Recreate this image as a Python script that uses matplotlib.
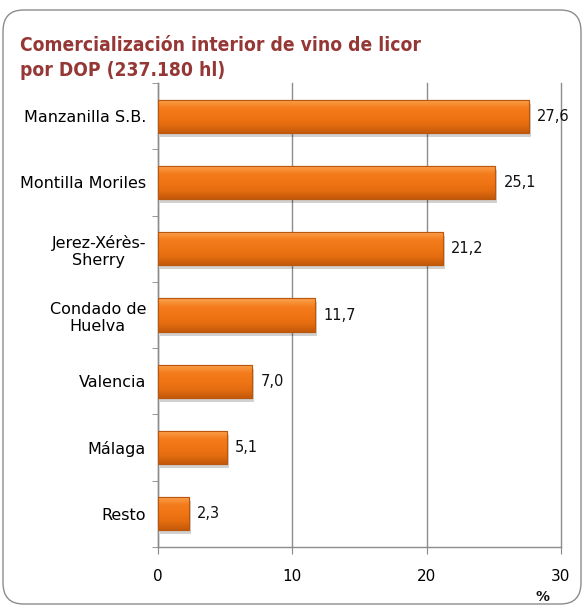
import matplotlib
matplotlib.use("Agg")
import matplotlib.pyplot as plt
from matplotlib.patches import FancyBboxPatch
from matplotlib.colors import LinearSegmentedColormap
import numpy as np

categories = ["Manzanilla S.B.", "Montilla Moriles", "Jerez-Xérès-\nSherry",
              "Condado de\nHuelva", "Valencia", "Málaga", "Resto"]
values = [27.6, 25.1, 21.2, 11.7, 7.0, 5.1, 2.3]
value_labels = ["27,6", "25,1", "21,2", "11,7", "7,0", "5,1", "2,3"]
xticks = [0, 10, 20, 30]
title = "Comercialización interior de vino de licor\npor DOP (237.180 hl)"

W, H = 584, 608
fig = plt.figure(figsize=(W / 100, H / 100), dpi=100)
plt.rcParams['font.family'] = ['DejaVu Sans']

# rounded frame
frame = FancyBboxPatch((3 / W, 4 / H), (W - 6) / W, (H - 14) / H,
                       boxstyle="round,pad=0,rounding_size=0.035",
                       transform=fig.transFigure, fill=False,
                       edgecolor="#8c8c8c", linewidth=1.0)
fig.patches.append(frame)

ax = fig.add_axes([158 / W, 1 - 547 / H, (561 - 158) / W, (547 - 83) / H])
n = len(categories)
y = np.arange(n)
bars = ax.barh(y, values, height=0.5, color="#F07514", edgecolor="#B9570E",
               linewidth=0.8, zorder=3)

# gradient fill for bars
cmap = LinearSegmentedColormap.from_list(
    "bar", ["#FBA34F", "#F47C1C", "#F07514", "#E56D10", "#C55A0A"])
for b in bars:
    ax.add_patch(plt.Rectangle((b.get_x() + 0.15, b.get_y() + 0.06), b.get_width(),
                               b.get_height(), facecolor="#000000", alpha=0.18,
                               edgecolor="none", zorder=2))
    im = ax.imshow(np.linspace(0, 1, 50).reshape(-1, 1), cmap=cmap, aspect="auto",
                   extent=[b.get_x(), b.get_x() + b.get_width(),
                           b.get_y() + b.get_height(), b.get_y()],
                   zorder=3.5, interpolation="bilinear")
    im.set_clip_path(b)
    ax.add_patch(plt.Rectangle((b.get_x(), b.get_y()), b.get_width(), b.get_height(),
                               fill=False, edgecolor="#B9570E", linewidth=0.8, zorder=4))
ax.set_xlim(0, 30)
ax.set_ylim(n - 0.5, -0.5)

for yi, v, lab in zip(y, values, value_labels):
    ax.annotate(lab, (v, yi), xytext=(6, 0), textcoords="offset points",
                va="center", ha="left", fontsize=10.5, color="#111111")

ax.set_xticks(xticks)
ax.set_xticklabels([str(t) for t in xticks], fontsize=11)
ax.set_yticks(y)
ax.set_yticklabels(categories, fontsize=11.5)
for t in ax.get_yticklabels():
    t.set_multialignment("center")
ax.set_yticks(np.arange(-0.5, n, 1), minor=True)
ax.tick_params(axis="y", which="major", length=0, pad=8.6)
ax.tick_params(axis="y", which="minor", length=4, color="#888888", direction="out")
ax.tick_params(axis="x", which="major", length=5, color="#888888", pad=11)

ax.grid(axis="x", color="#8c8c8c", linewidth=1.0, zorder=0)
for gl in ax.get_xgridlines():
    gl.set_clip_on(False)
for s in ["top", "right"]:
    ax.spines[s].set_visible(False)
for s in ["left", "bottom"]:
    ax.spines[s].set_color("#8c8c8c")
    ax.spines[s].set_linewidth(1.0)

fig.text(20 / W, 1 - 36 / H, title, ha="left", va="top", fontsize=13.8,
         fontweight="bold", fontstretch="condensed", family=["DejaVu Sans"],
         color="#953735", linespacing=1.38)
fig.text(543 / W, 1 - 597 / H, "%", ha="center", va="center", fontsize=10,
         fontweight="bold", color="#111111")

fig.savefig("out.png", dpi=100)
